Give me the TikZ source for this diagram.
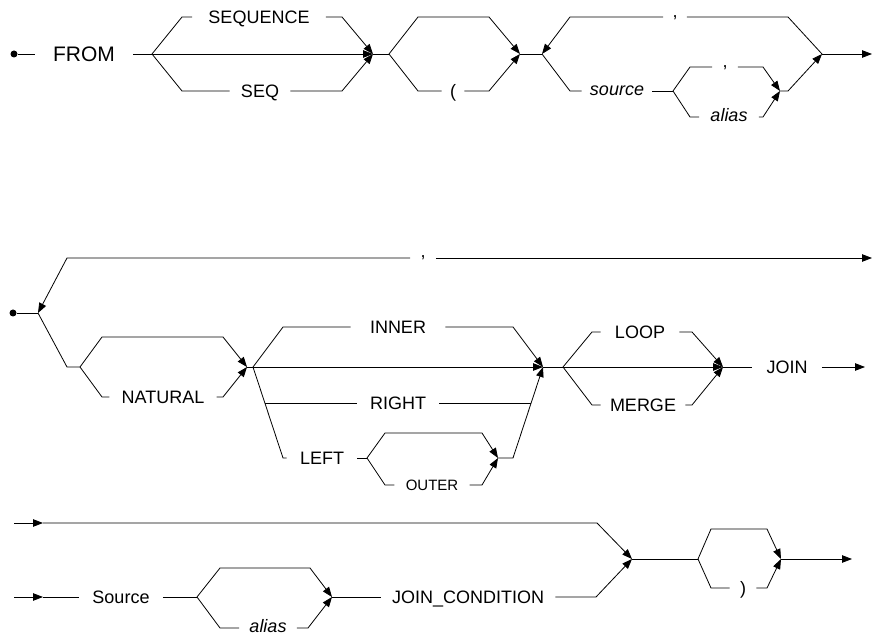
\documentclass[tikz,border=0pt]{standalone}
\usepackage{fontspec}
\setmainfont{Liberation Sans}
\usetikzlibrary{arrows.meta}
\begin{document}
\begin{tikzpicture}
% syntax diagram for the FROM clause
\def\pxsz{1pt}
\providecommand{\synLineColor}{black}
\providecommand{\synLineWidth}{0.8pt}
\providecommand{\synTextSize}{\fontsize{18pt}{20pt}\selectfont}
\begin{scope}[x=\pxsz, y=-\pxsz, line cap=butt, line join=miter,
  draw=\synLineColor, line width=\synLineWidth,
  arr/.style={-{Triangle[length=10pt,width=7.5pt]}},
  kw/.style={inner xsep=12pt, inner ysep=0pt, text height=13pt, text depth=0pt, font=\synTextSize},
  var/.style={kw, text height=9.4pt, font=\synTextSize\itshape},
  pn/.style={kw, inner xsep=8pt},
  small/.style={kw, text height=10.8pt, font=\fontsize{15pt}{17pt}\selectfont},
  dot/.style={circle, fill=\synLineColor, inner sep=0pt, minimum size=7pt}]
  \useasboundingbox (0,0) rectangle (873,636);
  % Row 1: FROM [SEQUENCE|SEQ] [(] source [, alias] {, ...}
  \node[dot] (start1) at (14,54) {};
  \node[kw, inner xsep=18pt, text height=15pt, font=\fontsize{21pt}{23pt}\selectfont] (from) at (84,54) {FROM};
  \coordinate (sq) at (152,54);
  \coordinate (mq) at (373,54);
  \draw (start1) -- (from);
  \draw (from) -- (sq);
  \node[kw, inner xsep=16pt] (sequence) at (259,17) {SEQUENCE};
  \node[kw, inner xsep=11pt] (seq) at (260,91) {SEQ};
  \draw (sq) -- (182,17) -- (sequence);
  \draw[arr] (sequence) -- (342,17) -- (mq);
  \draw[arr] (sq) -- (mq);
  \draw (sq) -- (182,91) -- (seq);
  \draw[arr] (seq) -- (342,91) -- (mq);
  \coordinate (sp) at (389,54);
  \coordinate (mp) at (520,54);
  \draw (mq) -- (sp);
  \draw[arr] (sp) -- (418,17) -- (489,17) -- (mp);
  \node[pn] (lpar) at (453,91) {(};
  \draw (sp) -- (418,91) -- (lpar);
  \draw[arr] (lpar) -- (489,91) -- (mp);
  \coordinate (lc) at (542,54);
  \coordinate (rc) at (822,54);
  \draw (mp) -- (lc);
  \node[pn, inner xsep=9pt] (comma1) at (675,17) {\raisebox{6pt}{,}};
  \draw (rc) -- (788,17) -- (comma1);
  \draw[arr] (comma1) -- (570,17) -- (lc);
  \node[var, inner xsep=8pt] (source) at (617,91) {source};
  \coordinate (sa) at (673,91);
  \coordinate (ma) at (780,91);
  \draw (lc) -- (570,91) -- (source);
  \draw (source) -- (sa);
  \node[pn, inner xsep=10pt] (comma2) at (725,67) {\raisebox{6pt}{,}};
  \draw (sa) -- (690,67) -- (comma2);
  \draw[arr] (comma2) -- (763,67) -- (ma);
  \node[var, inner xsep=11pt] (alias1) at (729,117) {alias};
  \draw (sa) -- (690,117) -- (alias1);
  \draw[arr] (alias1) -- (763,117) -- (ma);
  \draw[arr] (ma) -- (788,91) -- (rc);
  \coordinate (end1) at (872,54);
  \draw[arr] (rc) -- (end1);
  % Row 2: {, ...} [NATURAL] [INNER|RIGHT|LEFT [OUTER]] [LOOP|MERGE] JOIN
  \node[dot] (start2) at (13,313) {};
  \coordinate (j2) at (38,313);
  \draw (start2) -- (j2);
  \node[pn, inner xsep=10pt] (comma3) at (423,258) {\raisebox{7pt}{,}};
  \coordinate (end2) at (872,258);
  \draw[arr] (comma3) -- (67,258) -- (j2);
  \draw[arr] (comma3) -- (end2);
  \coordinate (e2) at (80,367);
  \coordinate (mn) at (247,367);
  \draw (j2) -- (67,367) -- (e2);
  \draw[arr] (e2) -- (102,337) -- (223,337) -- (mn);
  \node[kw] (natural) at (163,397) {NATURAL};
  \draw (e2) -- (102,397) -- (natural);
  \draw[arr] (natural) -- (223,397) -- (mn);
  \coordinate (f2) at (253,367);
  \coordinate (mj) at (543,367);
  \draw (mn) -- (f2);
  \node[kw, inner xsep=19pt] (inner) at (398,327) {INNER};
  \draw (f2) -- (283,327) -- (inner);
  \draw[arr] (inner) -- (513,327) -- (mj);
  \draw[arr] (f2) -- (mj);
  \node[kw, inner xsep=13pt] (right) at (398,403) {RIGHT};
  \coordinate (rr0) at (265,403);
  \coordinate (rr1) at (531,403);
  \draw (rr0) -- (right) -- (rr1);
  \node[kw, inner xsep=13pt] (left) at (322,458) {LEFT};
  \coordinate (g2) at (367,458);
  \coordinate (mo) at (498,458);
  \draw (f2) -- (283,458) -- (left);
  \draw (left) -- (g2);
  \draw[arr] (g2) -- (385,433) -- (482,433) -- (mo);
  \node[small, inner xsep=11pt] (outer) at (432,485) {OUTER};
  \draw (g2) -- (385,485) -- (outer);
  \draw[arr] (outer) -- (482,485) -- (mo);
  \draw[arr] (mo) -- (513,458) -- (mj);
  \coordinate (h2) at (563,367);
  \coordinate (mh) at (723,367);
  \draw (mj) -- (h2);
  \node[kw, inner xsep=14pt] (loop) at (640,332) {LOOP};
  \draw (h2) -- (592,332) -- (loop);
  \draw[arr] (loop) -- (692,332) -- (mh);
  \node[kw, inner xsep=9pt] (merge) at (643,405) {MERGE};
  \draw (h2) -- (592,405) -- (merge);
  \draw[arr] (merge) -- (692,405) -- (mh);
  \draw[arr] (h2) -- (mh);
  \node[kw, inner xsep=14pt] (join) at (787,367) {JOIN};
  \coordinate (end3) at (865,367);
  \draw (mh) -- (join);
  \draw[arr] (join) -- (end3);
  % Row 3: Source [alias] JOIN_CONDITION [)]
  \coordinate (in3a) at (14,523);
  \coordinate (tip3a) at (43,523);
  \coordinate (mc) at (632,559);
  \draw[arr] (in3a) -- (tip3a);
  \draw[arr] (tip3a) -- (597,523) -- (mc);
  \coordinate (in3b) at (14,597);
  \coordinate (tip3b) at (43,597);
  \node[kw, inner xsep=13pt] (srcname) at (121,597) {Source};
  \draw[arr] (in3b) -- (tip3b);
  \draw (tip3b) -- (srcname);
  \coordinate (k3) at (197,597);
  \coordinate (mk) at (332,597);
  \draw (srcname) -- (k3);
  \draw[arr] (k3) -- (220,568) -- (310,568) -- (mk);
  \node[var, inner xsep=10pt] (alias2) at (268,628) {alias};
  \draw (k3) -- (220,628) -- (alias2);
  \draw[arr] (alias2) -- (308,628) -- (mk);
  \node[kw, inner xsep=11pt] (cond) at (468,597) {JOIN\_CONDITION};
  \draw (mk) -- (cond);
  \draw[arr] (cond) -- (596,597) -- (mc);
  \coordinate (l3) at (698,559);
  \coordinate (ml) at (781,559);
  \draw (mc) -- (l3);
  \draw[arr] (l3) -- (711,529) -- (767,529) -- (ml);
  \node[pn, inner xsep=10pt] (rpar) at (743,588) {)};
  \draw (l3) -- (711,588) -- (rpar);
  \draw[arr] (rpar) -- (767,588) -- (ml);
  \coordinate (end4) at (852,559);
  \draw[arr] (ml) -- (end4);
\end{scope}
\end{tikzpicture}
\end{document}
